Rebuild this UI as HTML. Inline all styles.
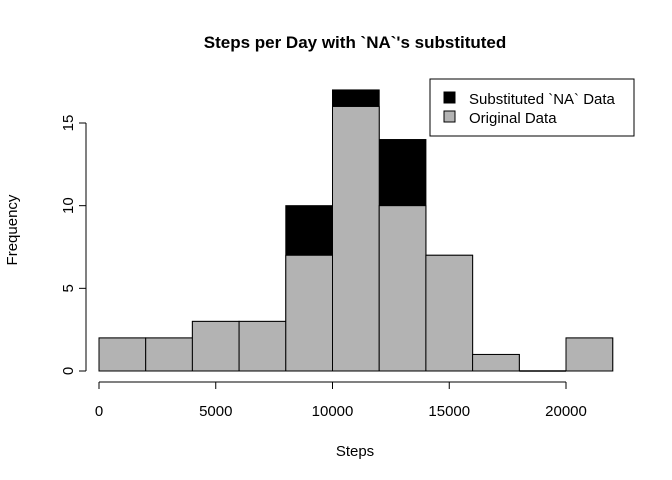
<!DOCTYPE html>
<html><head><meta charset="utf-8"><style>
body{margin:0;background:#fff}
svg{display:block;font-family:"Liberation Sans",Arial,sans-serif}
</style></head><body>
<svg id="chart" width="672" height="480">
<text x="355" y="48" text-anchor="middle" font-size="17" font-weight="bold">Steps per Day with `NA`'s substituted</text>
<text x="355" y="456" text-anchor="middle" font-size="15">Steps</text>
<text transform="translate(17,230) rotate(-90)" text-anchor="middle" font-size="15">Frequency</text>
<g id="bars"></g><g id="axes"></g>
<g>
<rect x="430" y="79" width="204" height="57" fill="#fff" stroke="#000" stroke-width="1"/>
<rect x="444" y="92" width="11" height="11" fill="#000" stroke="#000"/>
<text x="469" y="104" font-size="15">Substituted `NA` Data</text>
<rect x="444" y="111" width="11" height="11" fill="#b3b3b3" stroke="#000"/>
<text x="469" y="123" font-size="15">Original Data</text>
</g>
</svg>
<script>
const binStarts=[0,2000,4000,6000,8000,10000,12000,14000,16000,18000,20000];
const binWidth=2000;
const substitutedCounts=[2,2,3,3,10,17,14,7,1,0,2];
const originalCounts=[2,2,3,3,7,16,10,7,1,0,2];
const xTicks=[0,5000,10000,15000,20000];
const yTicks=[0,5,10,15];
const ns="http://www.w3.org/2000/svg";
const xs=v=>99+v*467/20000;
const ys=v=>371-v*248/15;
const bars=document.getElementById('bars'),axes=document.getElementById('axes');
function mk(tag,at,parent){const e=document.createElementNS(ns,tag);for(const k in at)e.setAttribute(k,at[k]);parent.appendChild(e);return e;}
binStarts.forEach((b,i)=>{
 const r1=mk('rect',{x:xs(b),y:ys(substitutedCounts[i]),width:xs(b+binWidth)-xs(b),height:ys(0)-ys(substitutedCounts[i]),fill:'#000',stroke:'#000','stroke-width':1},bars);
 
 
 if(substitutedCounts[i]===0){
  const z=mk('line',{x1:xs(b),x2:xs(b+binWidth),y1:ys(0),y2:ys(0),stroke:'#000','stroke-width':1.5},bars);
  
  
 }
});
binStarts.forEach((b,i)=>{
 if(originalCounts[i]===0)return;
 const r2=mk('rect',{x:xs(b),y:ys(originalCounts[i]),width:xs(b+binWidth)-xs(b),height:ys(0)-ys(originalCounts[i]),fill:'#b3b3b3',stroke:'#000','stroke-width':1},bars);
 
 
});
mk('line',{x1:xs(xTicks[0]),x2:xs(xTicks[xTicks.length-1]),y1:382,y2:382,stroke:'#000'},axes);
xTicks.forEach(t=>{
 mk('line',{x1:xs(t),x2:xs(t),y1:382,y2:389,stroke:'#000'},axes);
 const tx=mk('text',{x:xs(t),y:416,'text-anchor':'middle','font-size':15},axes);tx.textContent=t;
 
 
});
mk('line',{x1:86,x2:86,y1:ys(yTicks[0]),y2:ys(yTicks[yTicks.length-1]),stroke:'#000'},axes);
yTicks.forEach(t=>{
 mk('line',{x1:79,x2:86,y1:ys(t),y2:ys(t),stroke:'#000'},axes);
 const tx=mk('text',{transform:`translate(73,${ys(t)}) rotate(-90)`,'text-anchor':'middle','font-size':15},axes);tx.textContent=t;
 
 
});
</script>
</body></html>
